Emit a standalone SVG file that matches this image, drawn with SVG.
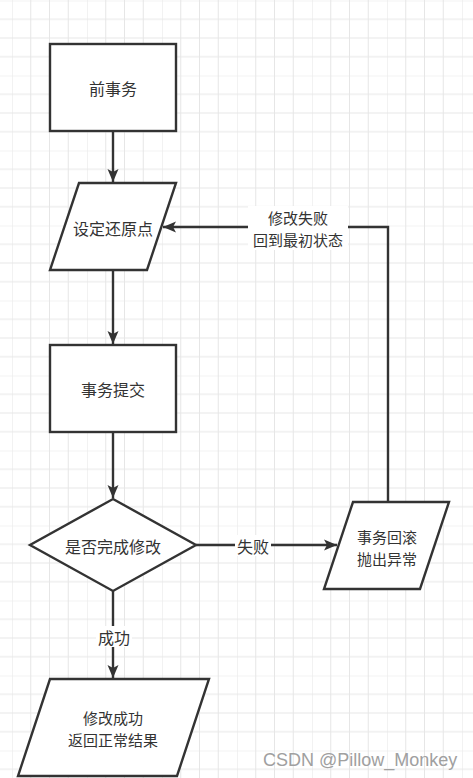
<svg xmlns="http://www.w3.org/2000/svg" width="473" height="778" viewBox="0 0 473 778">
<defs>
<pattern id="grid" patternUnits="userSpaceOnUse" x="12" y="0.5" width="75" height="75">
<path d="M0 0 V75 M18.75 0 V75 M37.5 0 V75 M56.25 0 V75 M0 0 H75 M0 18.75 H75 M0 37.5 H75 M0 56.25 H75" stroke="#e6e6e6" stroke-width="1" fill="none"/>
</pattern>
<marker id="arr" markerUnits="userSpaceOnUse" markerWidth="14" markerHeight="12" viewBox="0 0 14 12" refX="13" refY="6" orient="auto">
<path d="M0,0.5 L13,6 L0,11.5 L3,6 z" fill="#333"/>
</marker>
</defs>
<style>
.shape{fill:#fff;stroke:#333;stroke-width:2.4;stroke-linejoin:miter}
.t{font-family:"Microsoft YaHei","Noto Sans CJK SC",sans-serif;font-size:16px;fill:#333;text-anchor:middle;dominant-baseline:central}
.t2{font-size:15px}
.c{fill:none;stroke:#333;stroke-width:2.4;marker-end:url(#arr)}
.lbl{fill:#fff}
</style>
<rect width="473" height="778" fill="#fff"/>
<rect width="473" height="778" fill="url(#grid)"/>

<g id="connectors">
<path class="c" d="M113,131 V182"/>
<path class="c" d="M113,270 V344"/>
<path class="c" d="M113,432 V498"/>
<path class="c" d="M196,545 H337"/>
<path class="c" d="M388,501 V227 H163"/>
<path class="c" d="M113,591 V678"/>
<rect class="lbl" x="248" y="206" width="100" height="44"/>
<text class="t t2" x="298" y="217"><tspan x="298" y="217">修改失败</tspan><tspan x="298" y="239">回到最初状态</tspan></text>
<rect class="lbl" x="235" y="535" width="36" height="21"/>
<text class="t" x="253" y="546">失败</text>
<rect class="lbl" x="96" y="626" width="36" height="21"/>
<text class="t" x="114" y="637">成功</text>
</g>

<g id="n1">
<rect class="shape" x="50" y="44" width="126" height="87"/>
<text class="t" x="113" y="88">前事务</text>
</g>
<g id="n2">
<polygon class="shape" points="79,183 176,183 147,270 50,270"/>
<text class="t" x="113" y="228">设定还原点</text>
</g>
<g id="n3">
<rect class="shape" x="50" y="345" width="126" height="87"/>
<text class="t" x="113" y="389">事务提交</text>
</g>
<g id="n4">
<polygon class="shape" points="113,499 196,545 113,591 30,545"/>
<text class="t" x="113" y="546">是否完成修改</text>
</g>
<g id="n5">
<polygon class="shape" points="353,502 449,502 420,589 324,589"/>
<text class="t t2" x="387" y="536"><tspan x="387" y="536">事务回滚</tspan><tspan x="387" y="558">抛出异常</tspan></text>
</g>
<g id="n6">
<polygon class="shape" points="50,679 209,679 177,776 18,776"/>
<text class="t t2" x="113" y="717"><tspan x="113" y="717">修改成功</tspan><tspan x="113" y="739">返回正常结果</tspan></text>
</g>
<text x="263" y="766" font-family="Liberation Sans, Arial, sans-serif" font-size="18" fill="#a0a0a0">CSDN @Pillow_Monkey</text>
</svg>
